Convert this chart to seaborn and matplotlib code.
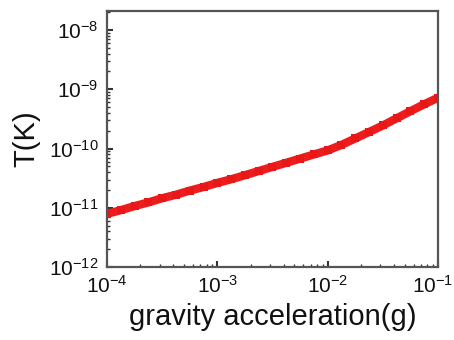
import matplotlib
matplotlib.use("Agg")
import matplotlib.pyplot as plt
import matplotlib.ticker as mticker
import matplotlib.transforms as mtransforms
import seaborn as sns
import pandas as pd

# Data
gravity = [1e-4, 1.33e-4, 1.78e-4, 2.37e-4, 3.16e-4, 4.22e-4, 5.62e-4, 7.5e-4,
           1e-3, 1.33e-3, 1.78e-3, 2.37e-3, 3.16e-3, 4.22e-3, 5.62e-3, 7.5e-3,
           1e-2, 1.33e-2, 1.78e-2, 2.37e-2, 3.16e-2, 4.22e-2, 5.62e-2, 7.5e-2, 1e-1]
temperature = [7.9e-12, 9.1e-12, 1.07e-11, 1.23e-11, 1.45e-11, 1.66e-11, 1.95e-11, 2.24e-11,
               2.63e-11, 3.02e-11, 3.55e-11, 4.17e-11, 4.9e-11, 5.75e-11, 6.76e-11, 7.94e-11,
               9.3e-11, 1.15e-10, 1.48e-10, 1.9e-10, 2.45e-10, 3.24e-10, 4.27e-10, 5.6e-10, 7.2e-10]
x_ticks = [1e-4, 1e-3, 1e-2, 1e-1]
x_ticklabels = ["$\\mathregular{10^{-4}}$", "$\\mathregular{10^{-3}}$", "$\\mathregular{10^{-2}}$", "$\\mathregular{10^{-1}}$"]
y_ticks = [1e-12, 1e-11, 1e-10, 1e-9, 1e-8]
y_ticklabels = ["$\\mathregular{10^{-12}}$", "$\\mathregular{10^{-11}}$", "$\\mathregular{10^{-10}}$",
                "$\\mathregular{10^{-9}}$", "$\\mathregular{10^{-8}}$"]

sns.set_style("ticks")
plt.rcParams['font.family'] = ['Liberation Sans', 'DejaVu Sans']
plt.rcParams['mathtext.fontset'] = 'custom'
plt.rcParams['mathtext.rm'] = 'Liberation Sans'
plt.rcParams['mathtext.it'] = 'Liberation Sans'

df = pd.DataFrame({"g": gravity, "T": temperature})

fig = plt.figure(figsize=(4.54, 3.40), dpi=100)
ax = fig.add_axes([107/454, 1-267/340, (438-107)/454, (267-11)/340])

sns.lineplot(data=df, x="g", y="T", ax=ax, color="#ee1c1c", linewidth=6,
             marker="s", markersize=5.5, markeredgewidth=0, markerfacecolor="#e81818")

ax.set_xscale("log")
ax.set_yscale("log")
ax.set_xlim(1e-4, 1e-1)
ax.set_ylim(1e-12, 2.1e-8)

ax.set_xticks(x_ticks)
ax.set_xticklabels(x_ticklabels, fontsize=15)
ax.set_yticks(y_ticks)
ax.set_yticklabels(y_ticklabels, fontsize=15)
ax.xaxis.set_minor_locator(mticker.LogLocator(base=10, subs=range(2, 10)))
ax.yaxis.set_minor_locator(mticker.LogLocator(base=10, subs=range(2, 10)))
ax.xaxis.set_minor_formatter(mticker.NullFormatter())
ax.yaxis.set_minor_formatter(mticker.NullFormatter())

ax.tick_params(which="both", direction="in", top=False, right=False, colors="#333333", labelcolor="#111111")
ax.tick_params(which="major", length=4, width=1.5, pad=6)
ax.tick_params(which="minor", length=2.5, width=1.0)

last = ax.get_xticklabels()[-1]
last.set_transform(last.get_transform() + mtransforms.ScaledTranslation(-5/100, 0, fig.dpi_scale_trans))

for s in ax.spines.values():
    s.set_color("#555555")
    s.set_linewidth(1.6)
    s.set_visible(True)

ax.set_xlabel("gravity acceleration(g)", fontsize=21, color="#111111", labelpad=4)
ax.set_ylabel("T(K)", fontsize=21, color="#111111", labelpad=6)

fig.savefig("out.png", dpi=100)
